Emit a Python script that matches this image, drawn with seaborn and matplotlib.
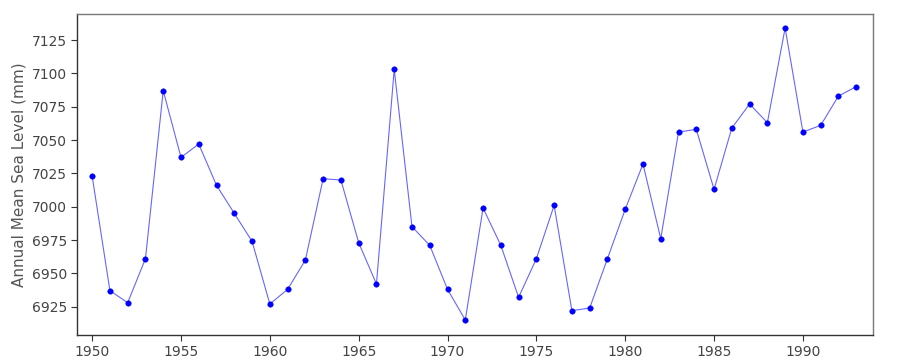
import matplotlib
matplotlib.use("Agg")
import matplotlib.pyplot as plt
import seaborn as sns
import pandas as pd

years = list(range(1950, 1994))
sea_level = [7023, 6937, 6928, 6961, 7087, 7037, 7047, 7016, 6995, 6974,
             6927, 6938, 6960, 7021, 7020, 6973, 6942, 7103, 6985, 6971,
             6938, 6915, 6999, 6971, 6932, 6961, 7001, 6922, 6924, 6961,
             6998, 7032, 6976, 7056, 7058, 7013, 7059, 7077, 7063, 7134,
             7056, 7061, 7083, 7090]
xticks = [1950, 1955, 1960, 1965, 1970, 1975, 1980, 1985, 1990]
yticks = [6925, 6950, 6975, 7000, 7025, 7050, 7075, 7100, 7125]

df = pd.DataFrame({"year": years, "level": sea_level})

sns.set_style("white")
plt.rcParams['font.family'] = ['DejaVu Sans']

fig = plt.figure(figsize=(9, 3.6), dpi=100)
ax = fig.add_axes([0.086, 0.0694, 0.8837, 0.8916])

sns.lineplot(data=df, x="year", y="level", ax=ax, color="blue", alpha=0.6,
             linewidth=0.8, marker=None)
sns.scatterplot(data=df, x="year", y="level", ax=ax, color="blue", s=16,
                edgecolor="blue", linewidth=0.3, zorder=3)

ax.set_xlim(1949.17, 1993.93)
ax.set_ylim(6903.75, 7144.5)
ax.set_xticks(xticks)
ax.set_yticks(yticks)
ax.set_xlabel("")
ax.set_ylabel("Annual Mean Sea Level (mm)", fontsize=11, color="#555555")
ax.tick_params(axis="both", which="both", direction="out", length=4, width=0.8,
               colors="#333333", labelsize=10, labelcolor="#444444",
               bottom=True, left=True, top=False, right=False)
for side in ["left", "bottom"]:
    ax.spines[side].set_color("#333333")
    ax.spines[side].set_linewidth(1.0)
for side in ["top", "right"]:
    ax.spines[side].set_color("#777777")
    ax.spines[side].set_linewidth(1.0)

fig.savefig("out.png", dpi=100)
